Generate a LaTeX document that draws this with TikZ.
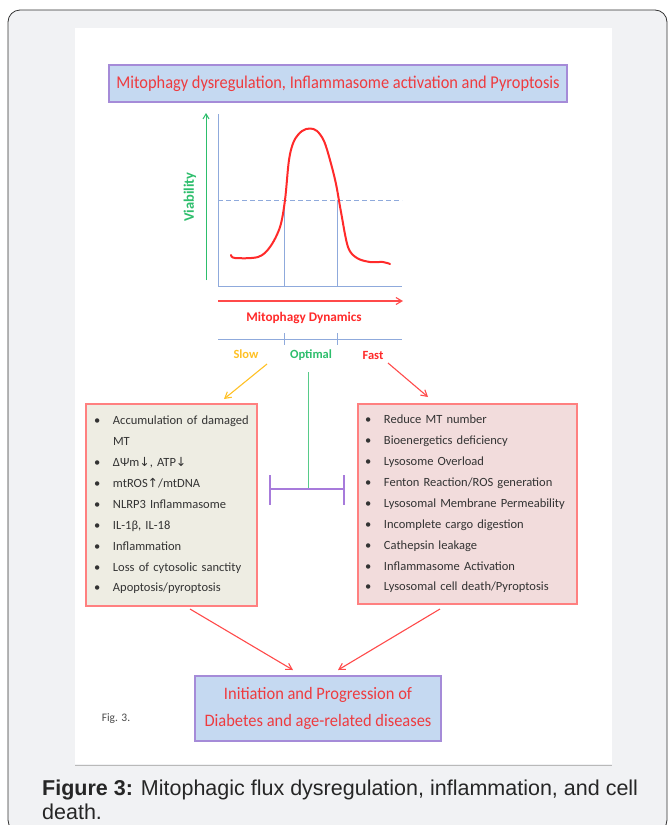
\documentclass[tikz,border=0pt]{standalone}
\usepackage{fontspec}
\setmainfont{Carlito}
\newfontfamily\capfont{Liberation Sans}
\newfontfamily\arrfont{DejaVu Sans}
\usetikzlibrary{arrows.meta}
\definecolor{panelbg}{HTML}{F1F2F4}
\definecolor{titlered}{HTML}{EE3B3F}
\definecolor{boxblue}{HTML}{C5D9F1}
\definecolor{boxpurple}{HTML}{A58BD8}
\definecolor{axisblue}{HTML}{8FAADC}
\definecolor{vgreen}{HTML}{2DBE6C}
\definecolor{slowyellow}{HTML}{FFC125}
\definecolor{lfill}{HTML}{EEEDE3}
\definecolor{rfill}{HTML}{F2DCDC}
\definecolor{boxred}{HTML}{FF8080}
\definecolor{itemtext}{HTML}{333333}
\definecolor{inhibit}{HTML}{A77BDB}
\definecolor{curvered}{HTML}{FF2A2A}
\newcommand\bul{\makebox[19pt][l]{•}}
\newcommand\dn{{\arrfont ↓}}
\newcommand\up{{\arrfont ↑}}
\begin{document}
\begin{tikzpicture}[x=1pt,y=-1pt,
  titlebox/.style={draw=boxpurple, fill=boxblue, line width=1.2pt, text=titlered, align=center},
  listbox/.style={draw=boxred, line width=1.2pt, text=itemtext, align=left,
     font=\fontsize{12.5}{20.9}\selectfont},
  redarrow/.style={draw=curvered!85, line width=1.1pt, -{Straight Barb[length=6pt,width=7pt]}},
  lbl/.style={font=\bfseries\fontsize{12.5}{14}\selectfont, inner sep=1pt}
]
\useasboundingbox (0,0) rectangle (669,825);
\fill[white] (0,0) rectangle (669,825);
\draw[fill=panelbg, draw=black!80, rounded corners=12pt, line width=0.8pt] (8,10) rectangle (667,832);
\fill[white] (75,28) rectangle (612,764);
\draw[gray!55, line width=0.8pt] (75,765) -- (612,765);

% title
\node[titlebox, minimum width=458pt, minimum height=37pt, font=\fontsize{18}{20}\selectfont] (title) at (338,83.5)
  {\scalebox{0.91}[1]{Mitophagy dysregulation, Inflammasome activation and Pyroptosis}};

% chart
\draw[vgreen, line width=1pt, -{Straight Barb[length=5pt,width=6pt]}] (206,280) -- (206,113);
\node[lbl, text=vgreen, rotate=90, font=\bfseries\fontsize{14.5}{16}\selectfont] (viab) at (190,197) {Viability};
\draw[axisblue, line width=1pt] (218,114) -- (218,286) -- (402,286);
\draw[axisblue, line width=1pt, dash pattern=on 5pt off 3pt] (218,200) -- (402,200);
\draw[axisblue, line width=0.9pt] (284,200) -- (284,286) (337,200) -- (337,286);
\draw[curvered, line width=2pt, line join=round, line cap=round] plot[smooth, tension=0.55] coordinates {
 (231,255) (235,258) (258,257) (270,247) (280,227) (285,200) (289,160) (294,141) (302,131)
 (310,128.5) (317,131) (324,141) (330,160) (336,184) (341,212) (348,247) (357,258) (370,262) (383,262) (390,264)};
\draw[redarrow] (218,301) -- (403,301);
\node[lbl, text=curvered, font=\bfseries\fontsize{13.2}{15}\selectfont] (dyn) at (304,318) {Mitophagy Dynamics};
\draw[axisblue, line width=1pt] (218,339) -- (402,339) (284,333) -- (284,345) (337,333) -- (337,345);
\node[lbl, text=slowyellow] (slow) at (246,354) {Slow};
\node[lbl, text=vgreen] (opt) at (311,355) {Optimal};
\node[lbl, text=curvered] (fast) at (373,355) {Fast};

\coordinate (slowA) at (267,364);
\coordinate (slowB) at (224,399);
\coordinate (fastA) at (388,363);
\coordinate (fastB) at (428,397);
\draw[slowyellow, line width=1.1pt, -{Straight Barb[length=6pt,width=7pt]}] (slowA) -- (slowB);
\draw[redarrow] (fastA) -- (fastB);

% inhibition
\coordinate (optA) at (308,372);
\coordinate (optB) at (308,489);
\draw[vgreen!80, line width=1pt] (optA) -- (optB);
\draw[inhibit, line width=1.3pt] (270,489) -- (344,489) (270,475) -- (270,505) (344,475) -- (344,505);

% boxes
\node[listbox, fill=lfill, minimum width=171pt, minimum height=202pt, text width=155pt, inner xsep=8pt] (lbox) at (171.5,505) {%
\bul Accumulation of damaged\\
\hspace*{19pt}MT\\
\bul ΔΨm\dn, ATP\dn\\
\bul mtROS\up/mtDNA\\
\bul NLRP3 Inflammasome\\
\bul IL-1β, IL-18\\
\bul Inflammation\\
\bul Loss of cytosolic sanctity\\
\bul Apoptosis/pyroptosis};
\node[listbox, fill=rfill, minimum width=219pt, minimum height=200pt, text width=205pt, inner xsep=7pt] (rbox) at (467.5,504) {%
\bul Reduce MT number\\
\bul Bioenergetics deficiency\\
\bul Lysosome Overload\\
\bul Fenton Reaction/ROS generation\\
\bul Lysosomal Membrane Permeability\\
\bul Incomplete cargo digestion\\
\bul Cathepsin leakage\\
\bul Inflammasome Activation\\
\bul Lysosomal cell death/Pyroptosis};

% bottom
\node[titlebox, minimum width=246pt, minimum height=65pt, font=\fontsize{17.5}{27}\selectfont] (bottom) at (318,708.5)
  {\scalebox{0.94}[1]{Initiation and Progression of}\\\scalebox{0.94}[1]{Diabetes and age-related diseases}};
\coordinate (lA) at (190,609);
\coordinate (lB) at (293,670);
\coordinate (rA) at (440,609);
\coordinate (rB) at (338,670);
\draw[redarrow] (lA) -- (lB);
\draw[redarrow] (rA) -- (rB);
\node[font=\fontsize{11.5}{13}\selectfont, text=black!70] (fig) at (116,719) {Fig. 3.};

% caption
\node[anchor=base west, inner sep=0pt, font=\capfont\fontsize{21.5}{24}\selectfont, text=black!85] (cap1) at (42,795)
  {\textbf{Figure 3:} Mitophagic flux dysregulation, inflammation, and cell};
\node[anchor=base west, inner sep=0pt, font=\capfont\fontsize{21.5}{24}\selectfont, text=black!85] (cap2) at (42,819) {death.};
\end{tikzpicture}
\end{document}
